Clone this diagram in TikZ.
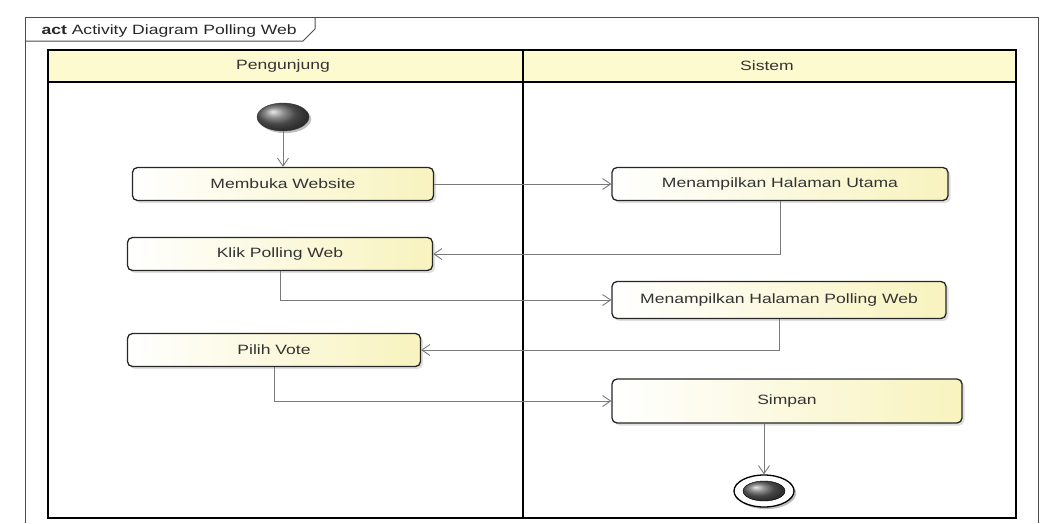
\documentclass[tikz,border=0pt]{standalone}
\usepackage{fontspec}
\newfontfamily\umlfont[FakeStretch=1.3]{Liberation Sans}
\usetikzlibrary{shapes.geometric,arrows.meta,shadows}
\definecolor{umlyellow}{HTML}{F8F3BE}
\definecolor{umlhead}{HTML}{FDFAD0}
\definecolor{umlline}{HTML}{7A7A7A}

\begin{document}
\begin{tikzpicture}[
    x=1pt, y=-1pt,
    font=\umlfont\fontsize{13.5}{16}\selectfont,
    action/.style={rectangle, rounded corners=5pt, draw=black!85, line width=1.3pt, left color=white, right color=umlyellow, minimum height=33pt, text=black!80, drop shadow={shadow xshift=2.5pt, shadow yshift=-2.5pt, opacity=0.25}},
    flow/.style={draw=umlline, line width=0.9pt, -{Straight Barb[length=8pt,width=11pt]}},
    lane/.style={draw=black, line width=2pt}
]
    \useasboundingbox (0,0) rectangle (1044,523);

    % Frame and tab
    \draw[black!70, line width=1pt] (25,523) -- (25,17) -- (1038,17) -- (1038,523);
    \draw[black!70, line width=1pt] (25,41) -- (303,41) -- (315,29) -- (315,17);
    \node[anchor=base west, text=black!85] (title) at (38,34) {\textbf{act} Activity Diagram Polling Web};

    % Swimlanes
    \draw[lane, fill=umlhead] (48,50) rectangle (1016,82);
    \draw[lane] (48,82) rectangle (1016,518);
    \draw[lane] (523,50) -- (523,518);
    \foreach \lane/\x in {Pengunjung/283, Sistem/767} {
        \node[text=black!80] (\lane) at (\x,66) {\lane};
    }

    % Start and actions
    \node[ellipse, minimum width=52pt, minimum height=28pt, draw=black!80, shading=ball, ball color=black!60, drop shadow] (start) at (283,117) {};
    \node[action, minimum width=301pt] (membuka) at (283,184) {Membuka Website};
    \node[action, minimum width=305pt] (klik) at (280,254) {Klik Polling Web};
    \node[action, minimum width=293pt] (pilih) at (274,350) {Pilih Vote};
    \node[action, minimum width=336pt] (utama) at (780,184) {Menampilkan Halaman Utama};
    \node[action, minimum width=334pt, minimum height=37pt] (polling) at (779,300) {Menampilkan Halaman Polling Web};
    \node[action, minimum width=350pt, minimum height=44pt] (simpan) at (787,401) {Simpan};

    % Final node
    \node[ellipse, draw=black, line width=1.3pt, minimum width=60pt, minimum height=32pt, fill=white, drop shadow] (stop) at (764,491) {};
    \node[ellipse, minimum width=42pt, minimum height=20pt, draw=black, shading=ball, ball color=black!60] (stopin) at (stop) {};

    % Flows
    \draw[flow] (start) -- (membuka);
    \draw[flow] (membuka) -- (utama);
    \draw[flow] (utama) |- (klik);
    \draw[flow] (klik) |- (polling);
    \draw[flow] (polling) |- (pilih);
    \draw[flow] (pilih) |- (simpan);
    \draw[flow] (simpan.south -| stop) -- (stop);
\end{tikzpicture}
\end{document}
